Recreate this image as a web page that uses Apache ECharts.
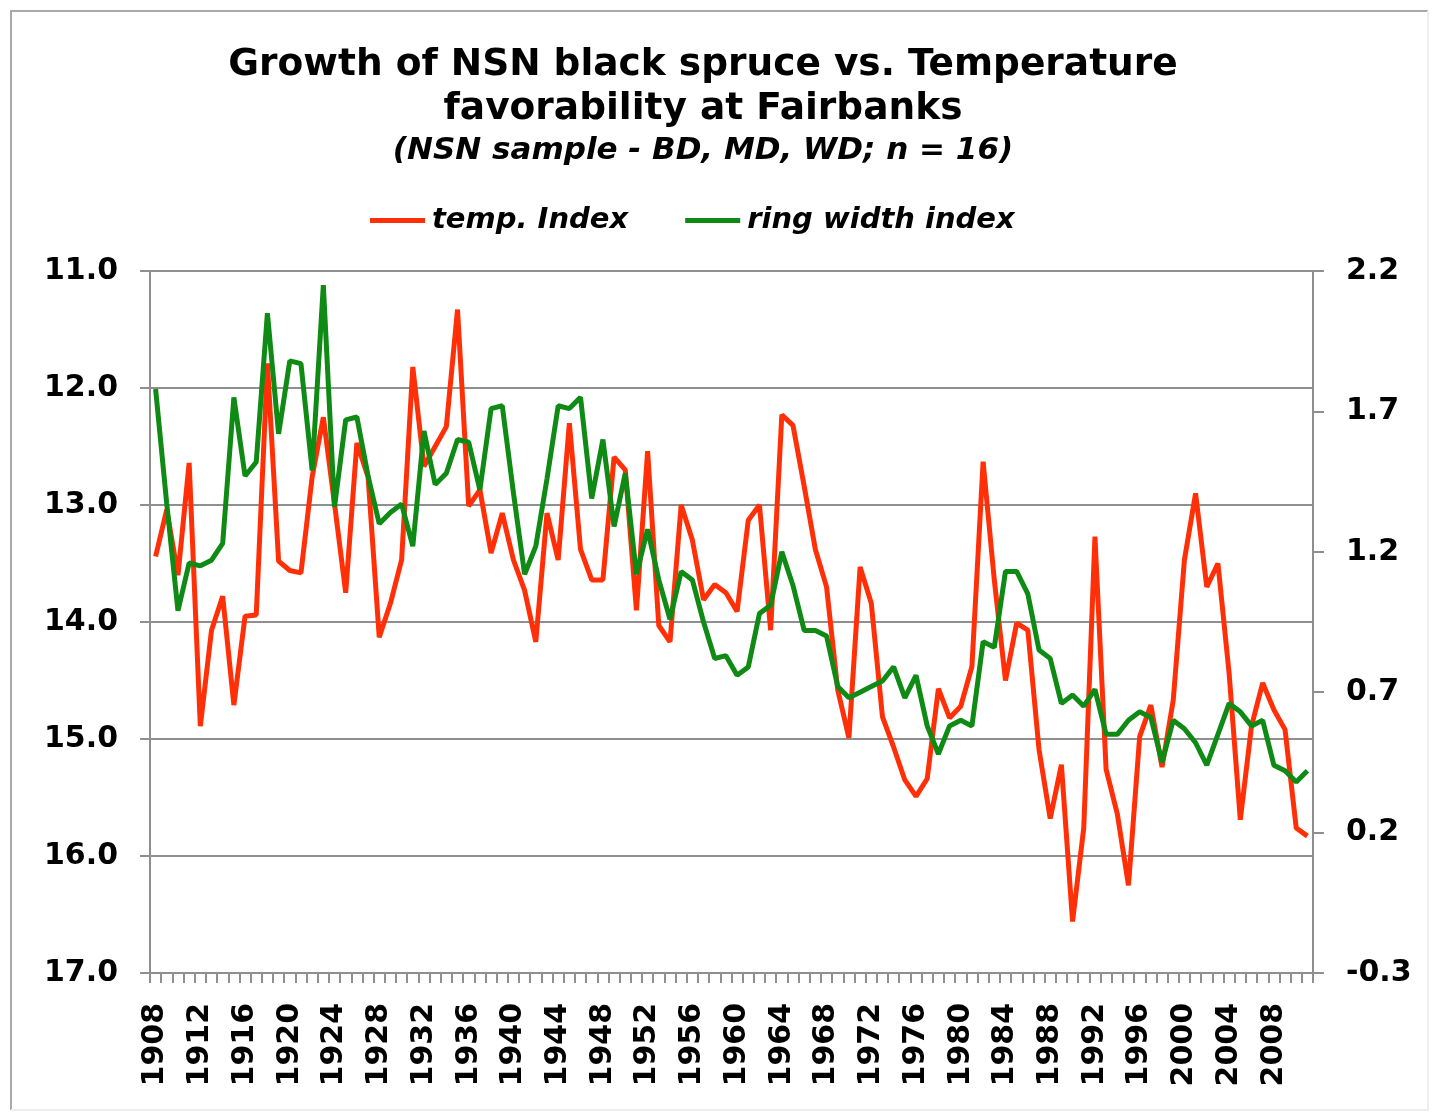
<!DOCTYPE html>
<html>
<head>
<meta charset="utf-8">
<script src="https://cdn.jsdelivr.net/npm/echarts@6/dist/echarts.min.js"></script>
<style>
  html, body { margin: 0; padding: 0; background: #fff; }
  #chart { width: 1438px; height: 1116px; }
</style>
</head>
<body>
<div id="chart"></div>
<script>
// years 1908..2011
const years = [];
for (let y = 1908; y <= 2011; y++) years.push(String(y));

// temperature favorability index (left axis, inverted)
const tempIndex = [
  13.44, 13.04, 13.60, 12.64, 14.89, 14.07, 13.78, 14.71, 13.95, 13.94,
  11.79, 13.48, 13.56, 13.58, 12.76, 12.25, 12.99, 13.75, 12.47, 12.76,
  14.13, 13.84, 13.47, 11.82, 12.67, 12.50, 12.33, 11.33, 13.01, 12.87,
  13.41, 13.07, 13.47, 13.73, 14.17, 13.07, 13.47, 12.30, 13.38, 13.64,
  13.64, 12.59, 12.70, 13.90, 12.54, 14.03, 14.17, 13.00, 13.30, 13.81,
  13.68, 13.75, 13.91, 13.13, 13.00, 14.07, 12.23, 12.32, 12.84, 13.38,
  13.70, 14.58, 14.99, 13.53, 13.84, 14.81, 15.07, 15.35, 15.49, 15.34,
  14.57, 14.82, 14.72, 14.38, 12.63, 13.64, 14.50, 14.01, 14.07, 15.09,
  15.68, 15.22, 16.56, 15.76, 13.27, 15.26, 15.64, 16.25, 14.98, 14.71,
  15.24, 14.67, 13.47, 12.90, 13.70, 13.50, 14.44, 15.69, 14.89, 14.52,
  14.75, 14.92, 15.76, 15.83
];

// ring width index (right axis)
const ringWidth = [
  1.78, 1.37, 0.99, 1.16, 1.15, 1.17, 1.23, 1.75, 1.47, 1.52,
  2.05, 1.62, 1.88, 1.87, 1.49, 2.15, 1.36, 1.67, 1.68, 1.47,
  1.30, 1.34, 1.37, 1.22, 1.63, 1.44, 1.48, 1.60, 1.59, 1.42,
  1.71, 1.72, 1.41, 1.12, 1.22, 1.46, 1.72, 1.71, 1.75, 1.39,
  1.60, 1.29, 1.48, 1.12, 1.28, 1.10, 0.96, 1.13, 1.10, 0.95,
  0.82, 0.83, 0.76, 0.79, 0.98, 1.01, 1.20, 1.08, 0.92, 0.92,
  0.90, 0.72, 0.68, 0.70, 0.72, 0.74, 0.79, 0.68, 0.76, 0.58,
  0.48, 0.58, 0.60, 0.58, 0.88, 0.86, 1.13, 1.13, 1.05, 0.85,
  0.82, 0.66, 0.69, 0.65, 0.71, 0.55, 0.55, 0.60, 0.63, 0.61,
  0.45, 0.60, 0.57, 0.52, 0.44, 0.55, 0.66, 0.63, 0.58, 0.60,
  0.44, 0.42, 0.38, 0.42
];

const rightTicks = [-0.3, 0.2, 0.7, 1.2, 1.7, 2.2];

const FONT = "DejaVu Sans";
const axisGray = "#8f8f8f";

const chart = echarts.init(document.getElementById("chart"));

const option = {
  backgroundColor: "#fff",
  animation: false,
  textStyle: { fontFamily: FONT },
  title: [
    {
      text: "Growth of NSN black spruce vs. Temperature\nfavorability at Fairbanks",
      left: 703,
      top: 43,
      textAlign: "center",
      padding: 0,
      textStyle: { fontFamily: FONT, fontSize: 37.5, fontWeight: "bold", color: "#000", lineHeight: 44 }
    },
    {
      text: "(NSN sample - BD, MD, WD; n = 16)",
      left: 703,
      top: 135,
      textAlign: "center",
      padding: 0,
      textStyle: { fontFamily: FONT, fontSize: 31, fontWeight: "bold", fontStyle: "italic", color: "#000" }
    }
  ],
  legend: {
    left: 370,
    top: 206,
    padding: 0,
    icon: "rect",
    itemWidth: 55,
    itemHeight: 5,
    itemGap: 57,
    textStyle: { fontFamily: FONT, fontSize: 29, fontWeight: "bold", fontStyle: "italic", color: "#000", padding: [0, 0, 0, 2] },
    data: ["temp. Index", "ring width index"]
  },
  grid: { left: 150, right: 125, top: 271, bottom: 143 },
  xAxis: {
    type: "category",
    data: years,
    boundaryGap: true,
    axisLine: { onZero: false, lineStyle: { color: axisGray, width: 2 } },
    axisTick: { show: true, interval: 0, length: 10, lineStyle: { color: axisGray, width: 2 } },
    axisLabel: {
      interval: 3,
      rotate: 90,
      margin: 30,
      fontFamily: FONT,
      fontSize: 30,
      fontWeight: "bold",
      color: "#000"
    },
    splitLine: { show: false }
  },
  yAxis: [
    {
      type: "value",
      inverse: true,
      min: 11,
      max: 17,
      interval: 1,
      axisLine: { show: true, lineStyle: { color: axisGray, width: 2 } },
      axisTick: { show: true, length: 10, lineStyle: { color: axisGray, width: 2 } },
      axisLabel: {
        margin: 32,
        fontFamily: FONT,
        fontSize: 30,
        fontWeight: "bold",
        color: "#000",
        formatter: (v) => v.toFixed(1)
      },
      splitLine: { show: true, lineStyle: { color: axisGray, width: 2 } }
    },
    {
      type: "value",
      position: "right",
      min: -0.3,
      max: 2.2,
      axisLine: { show: true, lineStyle: { color: axisGray, width: 2 } },
      axisTick: { show: true, length: 11, customValues: rightTicks, lineStyle: { color: axisGray, width: 2 } },
      axisLabel: {
        margin: 33,
        customValues: rightTicks,
        fontFamily: FONT,
        fontSize: 30,
        fontWeight: "bold",
        color: "#000",
        formatter: (v) => v.toFixed(1)
      },
      splitLine: { show: false }
    }
  ],
  series: [
    {
      name: "temp. Index",
      type: "line",
      yAxisIndex: 0,
      data: tempIndex,
      showSymbol: false,
      color: "#ff3008",
      lineStyle: { color: "#ff3008", width: 5 }
    },
    {
      name: "ring width index",
      type: "line",
      yAxisIndex: 1,
      data: ringWidth,
      showSymbol: false,
      color: "#0f8a14",
      lineStyle: { color: "#0f8a14", width: 5 }
    }
  ],
  graphic: [
    {
      type: "polyline",
      shape: { points: [[11, 1110], [11, 11], [1428, 11]] },
      style: { fill: null, stroke: "#aaaaaa", lineWidth: 2 },
      silent: true
    },
    {
      type: "polyline",
      shape: { points: [[1428, 11], [1428, 1110], [11, 1110]] },
      style: { fill: null, stroke: "#eeeeee", lineWidth: 2 },
      silent: true
    }
  ]
};

chart.setOption(option);
</script>
</body>
</html>
